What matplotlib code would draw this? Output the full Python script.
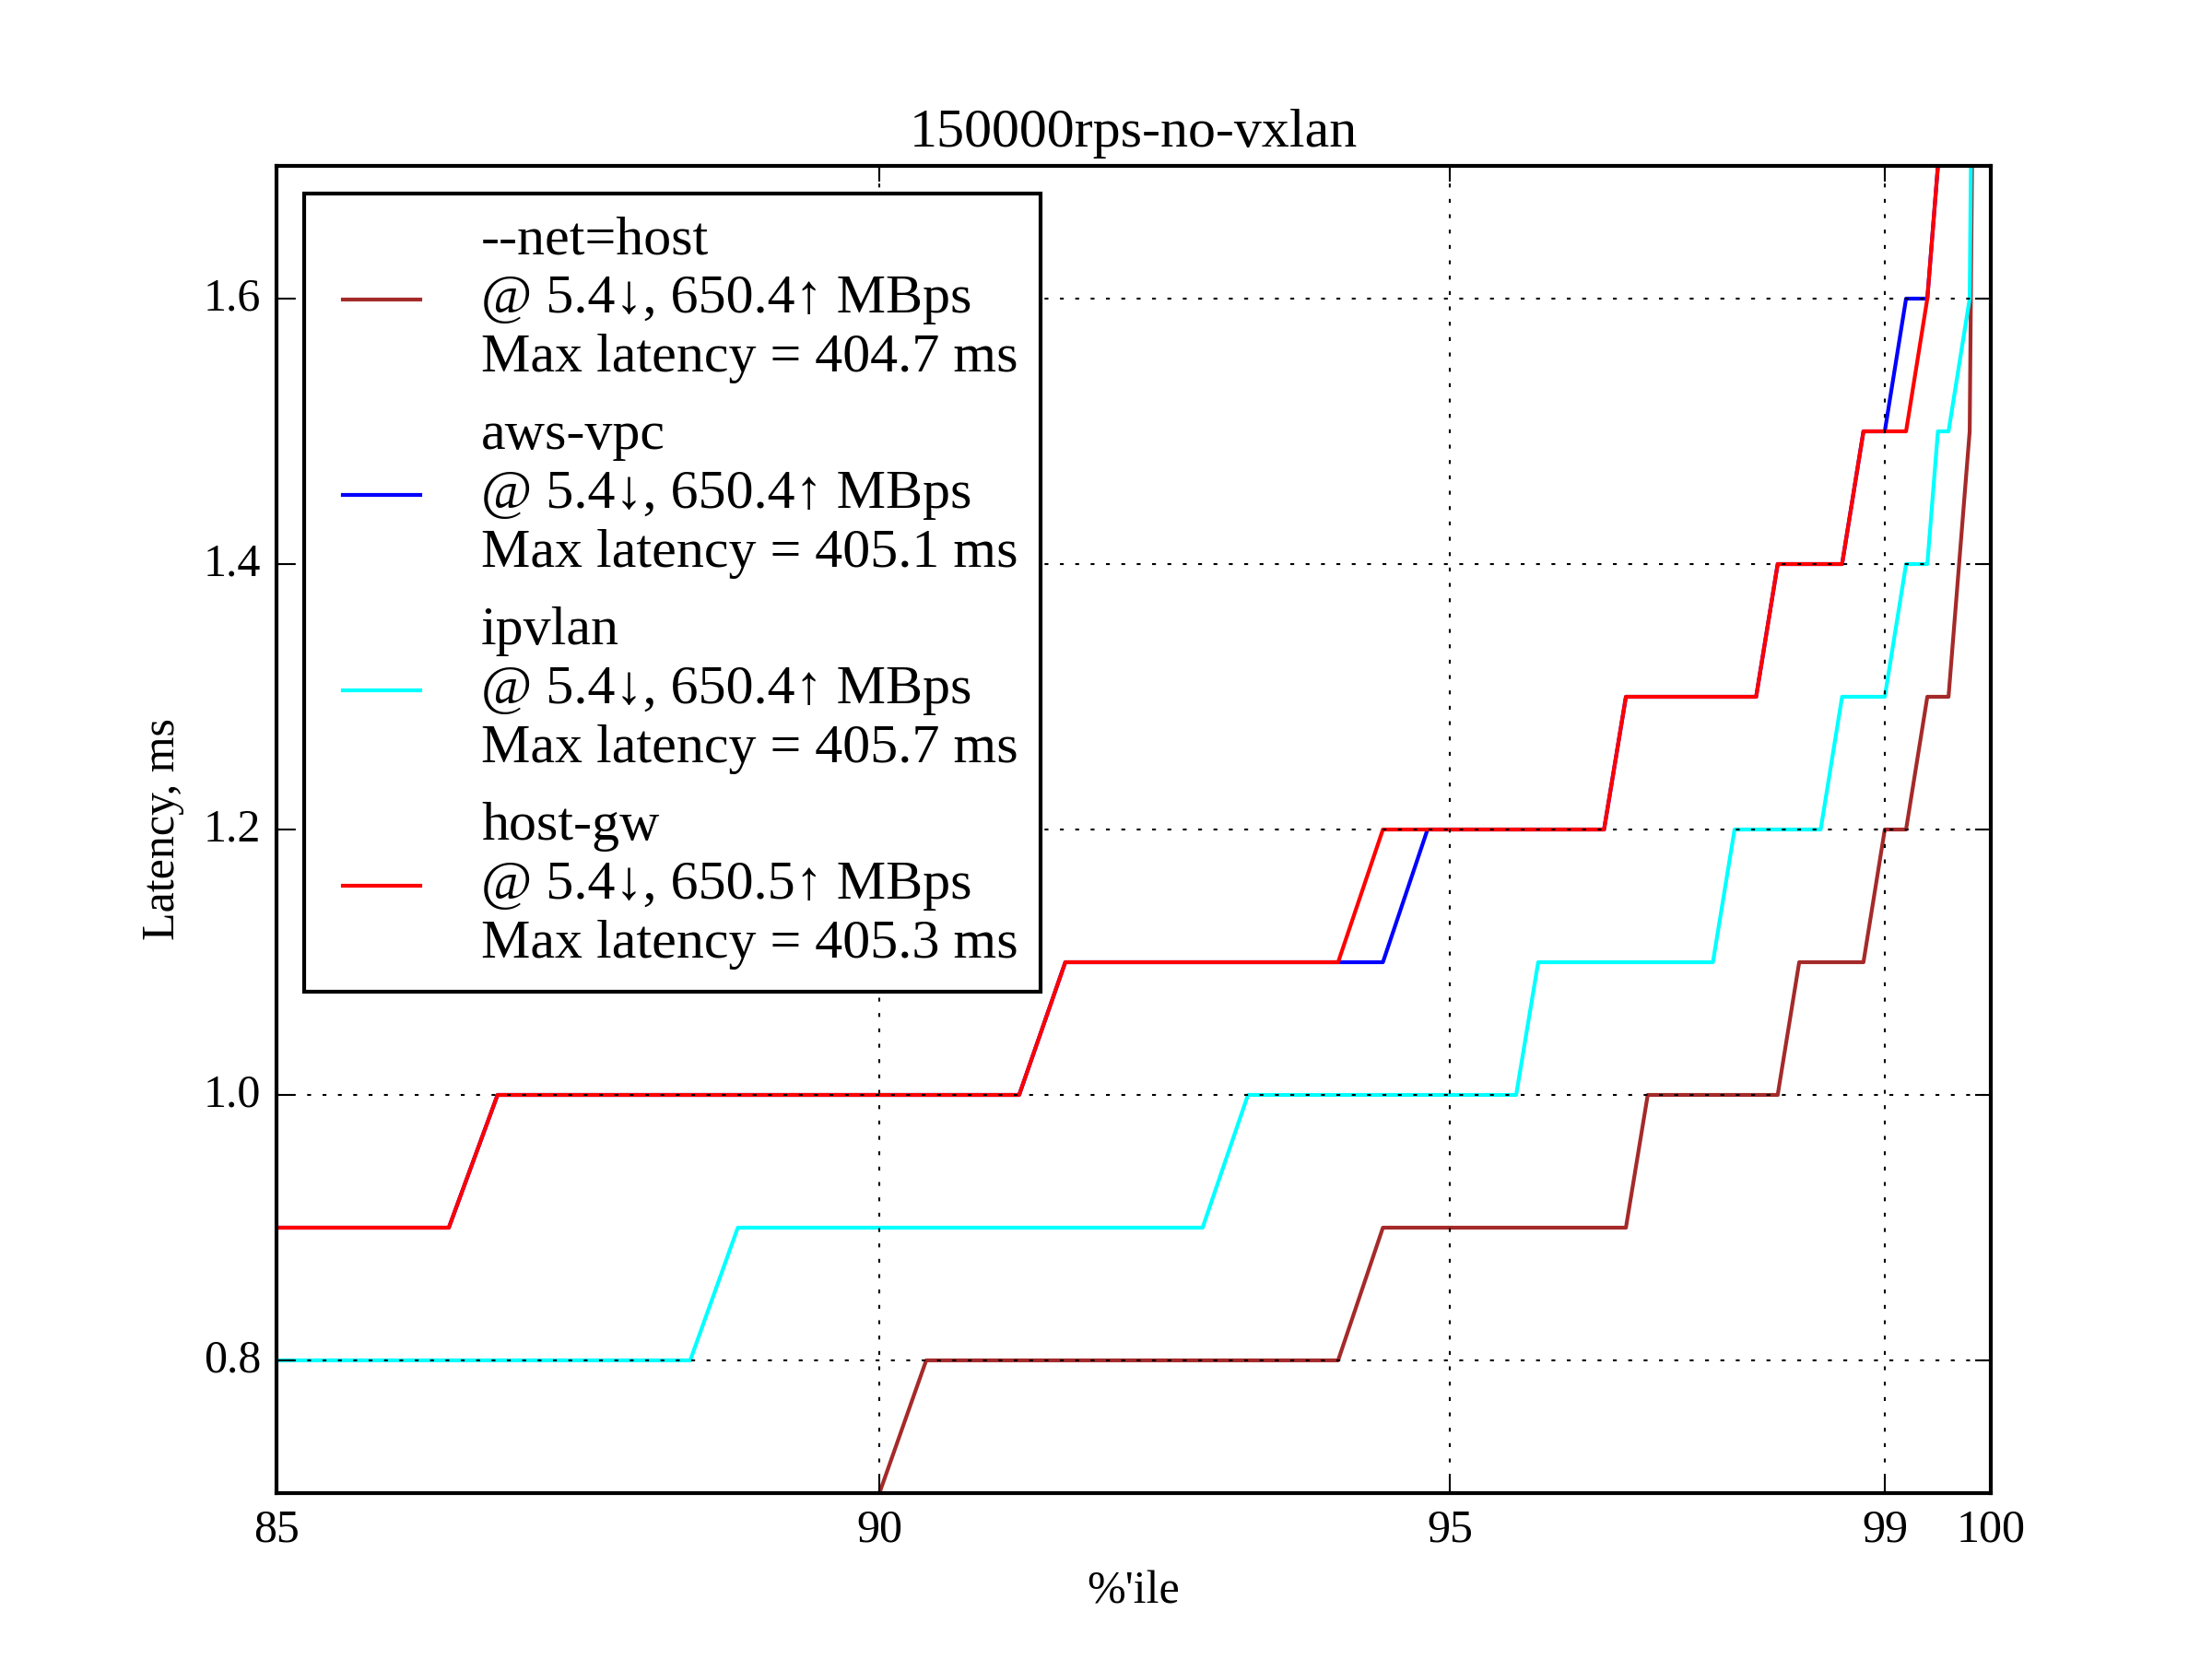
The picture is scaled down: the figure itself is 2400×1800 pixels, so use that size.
import matplotlib
matplotlib.use("Agg")
import matplotlib.pyplot as plt
from matplotlib.ticker import NullLocator

plt.style.use("classic")
plt.rcParams["font.family"] = ["Liberation Serif", "DejaVu Serif"]

# chart text
title = "150000rps-no-vxlan"
x_label = "%'ile"
y_label = "Latency, ms"

# one entry per network setup
names = ["--net=host", "aws-vpc", "ipvlan", "host-gw"]
colors = ["brown", "blue", "cyan", "red"]
rx_mbps = [5.4, 5.4, 5.4, 5.4]
tx_mbps = [650.4, 650.4, 650.4, 650.5]
max_latency = [404.7, 405.1, 405.7, 405.3]

# percentile / latency corner points
host_pct = [90.0, 90.4, 94.0, 94.4, 96.6, 96.8, 98.0, 98.2, 98.8, 99.0,
            99.2, 99.4, 99.6, 99.8, 99.9]
host_lat = [0.7, 0.8, 0.8, 0.9, 0.9, 1.0, 1.0, 1.1, 1.1, 1.2,
            1.2, 1.3, 1.3, 1.5, 2.4]

vpc_pct = [85.0, 86.4, 86.8, 91.2, 91.6, 94.4, 94.8, 96.4, 96.6, 97.8,
           98.0, 98.6, 98.8, 99.0, 99.2, 99.4, 99.6]
vpc_lat = [0.9, 0.9, 1.0, 1.0, 1.1, 1.1, 1.2, 1.2, 1.3, 1.3,
           1.4, 1.4, 1.5, 1.5, 1.6, 1.6, 1.8]

ipvlan_pct = [85.0, 88.4, 88.8, 92.8, 93.2, 95.6, 95.8, 97.4, 97.6, 98.4,
              98.6, 99.0, 99.2, 99.4, 99.5, 99.6, 99.8, 99.9]
ipvlan_lat = [0.8, 0.8, 0.9, 0.9, 1.0, 1.0, 1.1, 1.1, 1.2, 1.2,
              1.3, 1.3, 1.4, 1.4, 1.5, 1.5, 1.6, 2.5]

hostgw_pct = [85.0, 86.4, 86.8, 91.2, 91.6, 94.0, 94.4, 96.4, 96.6, 97.8,
              98.0, 98.6, 98.8, 99.2, 99.4, 99.6]
hostgw_lat = [0.9, 0.9, 1.0, 1.0, 1.1, 1.1, 1.2, 1.2, 1.3, 1.3,
              1.4, 1.4, 1.5, 1.5, 1.6, 1.8]

x_ticks = [85, 90, 95, 99, 100]
x_tick_labels = ["85", "90", "95", "99", "100"]
y_ticks = [0.8, 1.0, 1.2, 1.4, 1.6]

series_pct = [host_pct, vpc_pct, ipvlan_pct, hostgw_pct]
series_lat = [host_lat, vpc_lat, ipvlan_lat, hostgw_lat]

fig = plt.figure(figsize=(8, 6))
ax = fig.add_subplot(111)

for i in range(len(names)):
    label = "%s\n@ %.1f\u2193, %.1f\u2191 MBps\nMax latency = %.1f ms" % (
        names[i], rx_mbps[i], tx_mbps[i], max_latency[i])
    ax.plot(series_pct[i], series_lat[i], color=colors[i], label=label)

ax.set_xscale("log")
ax.set_xlim(85, 100)
ax.set_ylim(0.7, 1.7)
ax.set_xticks(x_ticks)
ax.set_xticklabels(x_tick_labels)
ax.xaxis.set_minor_locator(NullLocator())
ax.set_yticks(y_ticks)
ax.grid(True)

ax.set_title(title)
ax.set_xlabel(x_label)
ax.set_ylabel(y_label)
leg = ax.legend(loc="upper left")
for t in leg.get_texts():
    t.set_linespacing(1.245)  # slightly taller rows like the original

fig.savefig("out.png", dpi=300, facecolor="white")
